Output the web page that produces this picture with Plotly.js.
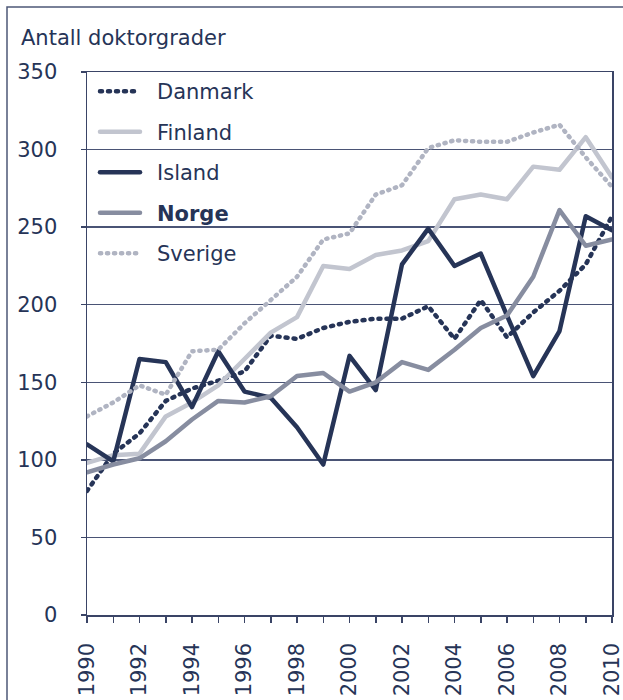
<!DOCTYPE html>
<html>
<head>
<meta charset="utf-8">
<script src="https://cdn.plot.ly/plotly-3.0.1.min.js"></script>
<style>
body { margin: 0; padding: 0; background: #ffffff; }
#chart { width: 623px; height: 700px; }
path.js-line { stroke-linecap: round; stroke-linejoin: round; }
</style>
</head>
<body>
<div id="chart"></div>
<script>
const years = [1990,1991,1992,1993,1994,1995,1996,1997,1998,1999,2000,2001,2002,2003,2004,2005,2006,2007,2008,2009,2010];
const tickLabels = years.map(y => (y % 2 === 0 ? String(y) : ''));

const danmark = [80,104,117,138,146,151,157,180,178,185,189,191,191,199,178,203,179,195,209,226,257];
const finland = [98,103,104,128,137,148,165,182,192,225,223,232,235,241,268,271,268,289,287,308,282];
const island  = [110,99,165,163,134,170,144,140,121,97,167,145,226,249,225,233,193,154,183,257,248];
const norge   = [92,97,101,112,126,138,137,141,154,156,144,150,163,158,171,185,193,218,261,238,242];
const sverige = [128,137,148,142,170,171,188,203,218,242,246,271,277,301,306,305,305,311,316,295,276];

const seriesNames = ['Danmark','Finland','Island','<b>Norge</b>','Sverige'];
const seriesData = [danmark, finland, island, norge, sverige];
const seriesColors = ['#263457','#c2c5cf','#263457','#878da0','#b0b4c2'];
const seriesDash = ['2px,6px','solid','solid','solid','1.2px,5.8px'];

const W = 623, H = 700, ML = 87, MR = 11, MT = 72, MB = 85;
const PW = W - ML - MR, PH = H - MT - MB;
const px2x = px => (px - ML) / PW;
const py2y = py => (H - MB - py) / PH;

const traces = seriesNames.map((n, i) => ({
  type: 'scatter', mode: 'lines', x: years, y: seriesData[i], name: n,
  legendgroup: 'g' + i,
  line: { color: seriesColors[i], width: 4.5, dash: seriesDash[i] },
  hoverinfo: 'x+y+name'
}));

const font = { family: 'DejaVu Sans, Verdana, sans-serif', size: 21, color: '#263457' };
const axisColor = '#3a4466';

const layout = {
  width: W, height: H,
  margin: { l: ML, r: MR, t: MT, b: MB, pad: 0 },
  paper_bgcolor: '#ffffff', plot_bgcolor: '#ffffff',
  font: font,
  showlegend: true,
  legend: {
    x: px2x(93), y: py2y(71), xanchor: 'left', yanchor: 'top',
    bgcolor: 'rgba(0,0,0,0)', borderwidth: 0,
    font: font, traceorder: 'grouped', tracegroupgap: 10.2,
    itemwidth: 54
  },
  xaxis: {
    range: [1990, 2010], tickmode: 'array', tickvals: years, ticktext: tickLabels,
    tickangle: -90, ticks: 'outside', ticklen: 6, tickwidth: 1.5, tickcolor: axisColor,
    showline: true, linecolor: axisColor, linewidth: 1.5, mirror: true,
    showgrid: false, zeroline: false, tickfont: font, ticklabelstandoff: 12,
    ticklabeloverflow: 'allow'
  },
  yaxis: {
    range: [0, 350], tickmode: 'linear', tick0: 0, dtick: 50,
    ticks: 'outside', ticklen: 5, tickwidth: 1.5, tickcolor: axisColor,
    showline: true, linecolor: axisColor, linewidth: 1.5, mirror: true,
    showgrid: true, gridcolor: '#4a5475', gridwidth: 1.3, zeroline: false,
    tickfont: font, ticklabelstandoff: 19
  },
  annotations: [{
    text: 'Antall doktorgrader', xref: 'paper', yref: 'paper',
    x: px2x(19), y: py2y(38), xanchor: 'left', yanchor: 'middle',
    showarrow: false, font: font
  }],
  shapes: [{
    type: 'rect', xref: 'paper', yref: 'paper',
    x0: px2x(7), x1: px2x(640), y0: py2y(720), y1: py2y(7),
    line: { color: '#4e5877', width: 1.5 }, fillcolor: 'rgba(0,0,0,0)', layer: 'below'
  }]
};

function styleLines() {
  document.querySelectorAll('#chart path.js-line').forEach(p => {
    p.style.strokeLinecap = 'round';
    p.style.strokeLinejoin = 'round';
  });
  document.querySelectorAll('#chart .legendlines path').forEach(p => {
    p.setAttribute('d', 'M7,0h40');
  });
}

Plotly.newPlot('chart', traces, layout, { displayModeBar: false, staticPlot: true }).then(styleLines);
</script>
</body>
</html>
